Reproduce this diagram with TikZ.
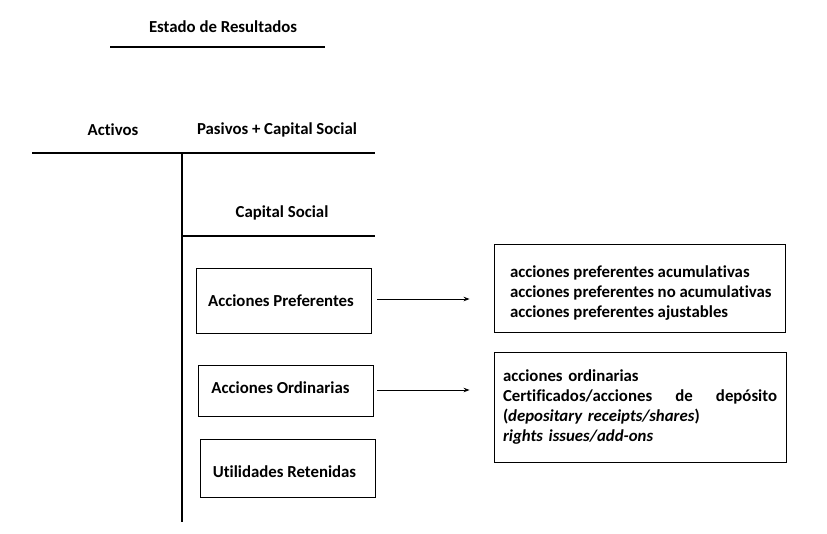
\documentclass[tikz,border=0pt]{standalone}
\usepackage{fontspec}
\setmainfont[Ligatures=NoCommon]{Carlito}
\usetikzlibrary{arrows.meta}
\begin{document}
\begin{tikzpicture}[x=1pt,y=-1pt,
  lbl/.style={font=\fontsize{16.8}{20}\selectfont\bfseries, inner sep=0pt},
  tline/.style={line width=1.8pt},
  box/.style={draw, line width=0.9pt, inner sep=0pt},
  conn/.style={line width=0.8pt, -{Stealth[length=6pt,width=4.5pt]}}
]
\useasboundingbox (0,0) rectangle (827,533);
% title
\node[lbl] (title) at (223,27) {Estado de Resultados};
\coordinate (t1) at (110,47);
\coordinate (t2) at (325,47);
\draw[line width=1.6pt] (t1) -- (t2);
% T account
\node[lbl] (act) at (113,130) {Activos};
\node[lbl] (pas) at (277,130) {Pasivos + Capital Social};
\coordinate (h1) at (32,153);
\coordinate (h2) at (375,153);
\coordinate (v1) at (182,153);
\coordinate (v2) at (182,522);
\draw[tline] (h1) -- (h2);
\draw[tline] (v1) -- (v2);
\node[lbl] (cs) at (282,213) {Capital Social};
\coordinate (c1) at (182,236);
\coordinate (c2) at (375,236);
\draw[tline] (c1) -- (c2);
% left boxes
\node[box, lbl, minimum width=175pt, minimum height=65pt] (ap) at (283.5,300.5) {\hspace*{-5pt}Acciones Preferentes};
\node[box, lbl, minimum width=175pt, minimum height=51pt] (ao) at (285.5,390.5) {\hspace*{-10pt}\raisebox{2.5pt}[\height][\depth]{Acciones Ordinarias}};
\node[box, lbl, minimum width=175pt, minimum height=58pt] (ur) at (287.5,468) {\hspace*{-6pt}\raisebox{-4pt}[\height][\depth]{Utilidades Retenidas}};
% right boxes
\node[box, lbl, minimum width=291pt, minimum height=88pt] (rb1) at (639.5,288)
  {\makebox[259pt][l]{\raisebox{-5pt}[\height][\depth]{\begin{tabular}{@{}l@{}}acciones preferentes acumulativas\\acciones preferentes no acumulativas\\acciones preferentes ajustables\end{tabular}}}};
\node[box, lbl, minimum width=292pt, minimum height=110pt, text width=274pt, align=left] (rb2) at (640,407)
  {acciones ordinarias\\\makebox[274pt][s]{Certificados/acciones\hfill de\hfill depósito}\\(\textit{depositary receipts/shares})\\\textit{rights issues/add-ons}};
% arrows
\draw[conn, shorten <=6pt, shorten >=24pt] ([yshift=1.5pt]ap.east) -- ([yshift=1.5pt]ap.east -| rb1.west);
\draw[conn, shorten <=4pt, shorten >=24pt] ([yshift=0.5pt]ao.east) -- ([yshift=0.5pt]ao.east -| rb2.west);
\end{tikzpicture}
\end{document}
